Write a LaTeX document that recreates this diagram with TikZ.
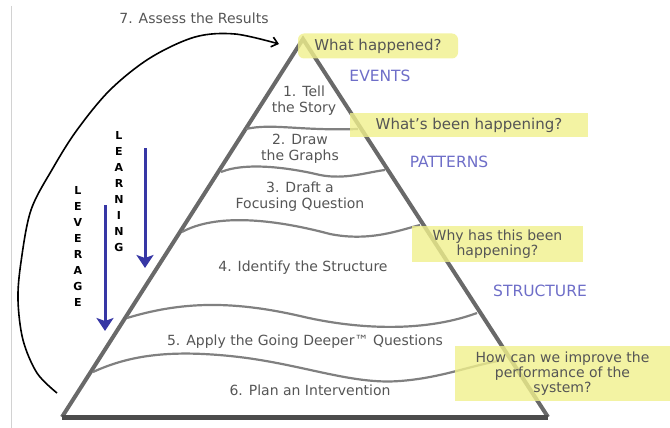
\documentclass[tikz,border=0pt]{standalone}
\usepackage{fontspec}
\setmainfont{DejaVu Sans}
\usetikzlibrary{arrows.meta}
\definecolor{hlyellow}{RGB}{240,240,140}
\definecolor{sidegray}{RGB}{105,105,105}
\definecolor{stepgray}{RGB}{85,85,85}
\definecolor{levelblue}{RGB}{110,110,200}
\definecolor{arrowblue}{RGB}{55,55,165}
\tikzset{
	pyrside/.style={draw=sidegray,line width=4pt},
	layerline/.style={draw=sidegray!85,line width=2.2pt},
	steptext/.style={text=stepgray,align=center,font=\fontsize{14}{16}\selectfont},
	levellabel/.style={text=levelblue,font=\fontsize{15.5}{18}\selectfont},
	askbox/.style={fill=hlyellow,fill opacity=.8,text opacity=1,text=stepgray,align=center,inner sep=0pt},
	downarrow/.style={draw=arrowblue,line width=3pt,-{Stealth[length=13pt,width=17pt,inset=3pt]}},
	spelled/.style={align=center,font=\bfseries\fontsize{11}{16}\selectfont}
}
\begin{document}
\begin{tikzpicture}[x=1pt,y=-1pt]
	\useasboundingbox (0,0) rectangle (670,428);
	\draw[gray!35,line width=.6pt] (11,6) -- (11,428);
	% pyramid and its layers
	\coordinate (apex) at (303,39);
	\coordinate (bl) at (62,417);
	\coordinate (br) at (548,417);
	\draw[pyrside] (bl) -- (apex) -- (br);
	\draw[black!70,line width=5pt] (bl) -- (br);
	\draw[layerline] (246,129) .. controls (272,123) and (300,131) .. (358,129);
	\draw[layerline] (221,172) .. controls (248,161) and (295,169) .. (320,175) .. controls (345,180) and (368,172) .. (385,170);
	\draw[layerline] (182,232) .. controls (215,214) and (270,218) .. (330,234) .. controls (370,242) and (400,230) .. (420,225);
	\draw[layerline] (127,318) .. controls (180,302) and (230,300) .. (300,316) .. controls (350,328) and (420,334) .. (477,313);
	\draw[layerline] (93,372) .. controls (130,355) and (170,350) .. (230,356) .. controls (300,363) and (350,385) .. (400,381) .. controls (440,378) and (470,366) .. (498,361);
	% questions
	\node[askbox,minimum width=160pt,minimum height=25pt,rounded corners=6pt,font=\fontsize{15}{17}\selectfont] (happened) at (378,46) {What happened?};
	\node[askbox,minimum width=238pt,minimum height=24pt,font=\fontsize{15}{17}\selectfont] (beenhap) at (469,125) {What's been happening?};
	\node[askbox,minimum width=171pt,minimum height=36pt,font=\fontsize{14}{15}\selectfont] (whyhap) at (497.5,244) {Why has this been\\happening?};
	\node[askbox,minimum width=215pt,minimum height=55pt,font=\fontsize{14}{15}\selectfont] (improve) at (562.5,373.5) {How can we improve the\\performance of the\\system?};
	% steps
	\node[steptext] (tell) at (304,101) {1. Tell\\the Story};
	\node[steptext] (graphs) at (300,149) {2. Draw\\the Graphs};
	\node[steptext] (draft) at (300,197) {3. Draft a\\Focusing Question};
	\node[steptext] (identify) at (303,268) {4. Identify the Structure};
	\node[steptext] (deeper) at (305,342) {5. Apply the Going Deeper™ Questions};
	\node[steptext] (plan) at (310,390) {6. Plan an Intervention};
	\node[steptext] (assess) at (194,18) {7. Assess the Results};
	\node[levellabel] (events) at (380,76) {EVENTS};
	\node[levellabel] (patterns) at (449,162) {PATTERNS};
	\node[levellabel] (structure) at (540,291) {STRUCTURE};
	% learning and leverage
	\node[spelled] (learning) at (119,192) {L\\E\\A\\R\\N\\I\\N\\G};
	\node[spelled] (leverage) at (78,246) {L\\E\\V\\E\\R\\A\\G\\E};
	\coordinate (learntop) at (145,148);
	\coordinate (learnend) at (145,268);
	\coordinate (levertop) at (105,205);
	\coordinate (leverend) at (105,331);
	\draw[downarrow] (learntop) -- (learnend);
	\draw[downarrow] (levertop) -- (leverend);
	% loop back to the top
	\coordinate (loopfoot) at (57,393);
	\coordinate (looptip) at (279,44);
	\draw[line width=1.6pt,-{Straight Barb[length=6pt,width=10pt]}] plot[smooth,tension=.55] coordinates {(loopfoot) (37,373) (23,340) (18,300) (21,262) (31,210) (53,168) (77,130) (110,90) (150,58) (195,37) (235,34) (looptip)};
\end{tikzpicture}
\end{document}
